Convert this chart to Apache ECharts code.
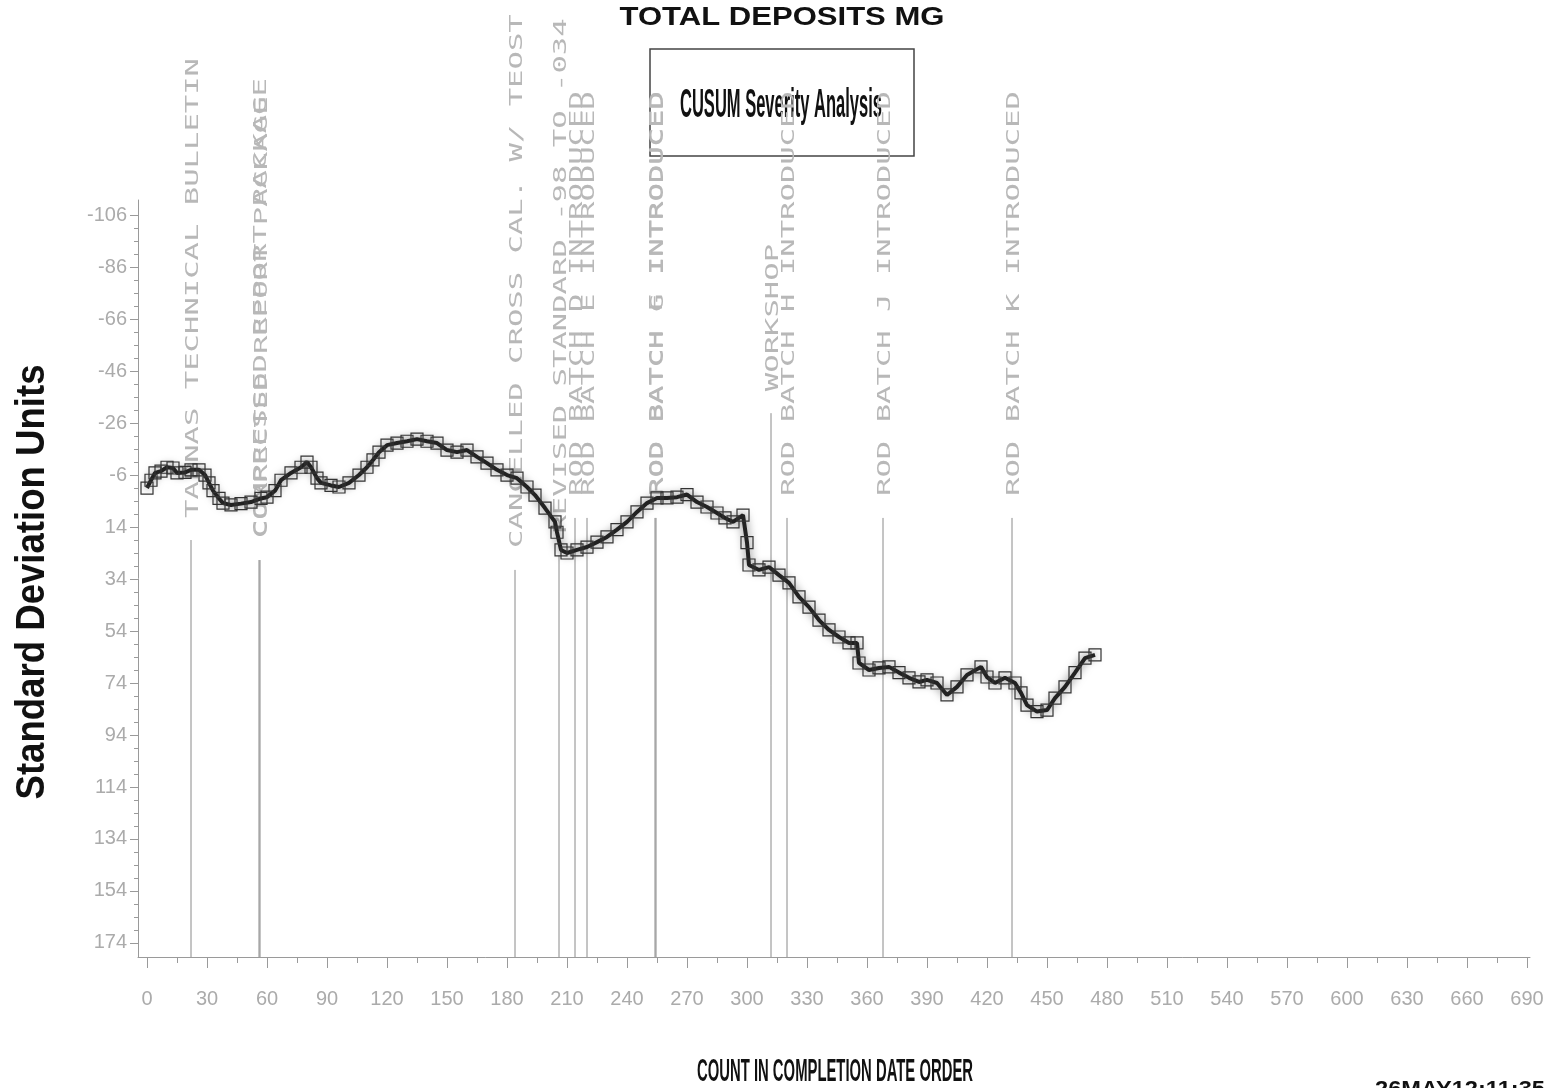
<!DOCTYPE html>
<html>
<head>
<meta charset="utf-8">
<title>CUSUM Severity Analysis</title>
<script src="https://cdn.jsdelivr.net/npm/echarts@6/dist/echarts.min.js"></script>
<style>
  html, body { margin: 0; padding: 0; background: #fff; }
  #chart { width: 1545px; height: 1088px; }
</style>
</head>
<body>
<div id="chart"></div>
<script>
// cusum values (count in completion date order -> SD units)
const counts = [0, 2, 4, 7, 10, 13, 15, 19, 22, 26, 29, 31, 33, 36, 38, 42, 47, 52, 57, 60,
  64, 67, 72, 77, 80, 82, 85, 87, 92, 96, 101, 106, 110, 113, 116, 120, 125, 130, 135, 140,
  145, 150, 155, 160, 165, 170, 175, 180, 185, 190, 194, 199, 204, 205, 207, 210, 215, 220, 225, 230,
  235, 240, 245, 250, 255, 260, 265, 270, 275, 280, 285, 289, 293, 298, 300, 301, 306, 311, 316, 321,
  326, 331, 336, 341, 346, 351, 355, 356, 361, 366, 371, 376, 381, 386, 390, 395, 400, 405, 410, 417,
  420, 424, 429, 434, 437, 440, 445, 450, 454, 459, 464, 469, 474];
const cusum = [-1, -4, -6.8, -7.5, -9, -8.7, -6.8, -7, -8, -8, -6, -3, 0, 3, 4.8, 5.5, 5, 4.4, 3, 2.5,
  0, -4, -6.8, -9, -11, -9, -4.8, -3, -2, -1.4, -3, -6, -9, -11.8, -14.8, -17.5, -18.3, -19, -19.8, -19,
  -18.3, -15.6, -14.8, -15.6, -13, -10.6, -8, -6, -4.8, -1.4, 1.7, 6.7, 12, 16, 22.8, 24, 22.8, 21.7, 19.8, 17.8,
  15, 12, 8.2, 4.8, 2.8, 2.8, 2.5, 1.5, 4.4, 6.3, 8.6, 10.5, 12, 9.4, 20, 28.6, 30.5, 29.4, 32.5, 35.5,
  40.9, 44.8, 49.8, 53.6, 56.3, 58.6, 58.6, 66.3, 69, 68.2, 67.8, 70, 72, 73.6, 72.8, 74, 78.6, 75.5, 70.9, 67.8,
  71.7, 74, 72, 74, 77.8, 82.5, 85, 84.4, 79.8, 75.5, 70, 64.4, 63.2];

// reference events
const eventCounts = [22, 56, 56.5, 184, 206, 214, 220, 254, 254.5, 312, 320, 368, 432.5];
const eventLabels = [
  'TAPNAS TECHNICAL BULLETIN',
  'COMPRESSED REPORT PACKAGE',
  'CORRECTED REPORT PACKAGE',
  'CANCELLED CROSS CAL. W/ TEOST',
  'REVISED STANDARD -98 TO -034',
  'ROD BATCH D INTRODUCED',
  'ROD BATCH E INTRODUCED',
  'ROD BATCH F INTRODUCED',
  'ROD BATCH G INTRODUCED',
  'WORKSHOP',
  'ROD BATCH H INTRODUCED',
  'ROD BATCH J INTRODUCED',
  'ROD BATCH K INTRODUCED'
];
// where each reference line starts (SD units)
const eventTops = [19, 26.7, 26.7, 30.5, 25, 10.5, 10.5, 10.5, 10.5, -29.8, 10.5, 10.5, 10.5];

const xTicks = [0, 30, 60, 90, 120, 150, 180, 210, 240, 270, 300, 330, 360, 390, 420, 450,
  480, 510, 540, 570, 600, 630, 660, 690];
const xMinorTicks = [15, 45, 75, 105, 135, 165, 195, 225, 255, 285, 315, 345, 375, 405, 435,
  465, 495, 525, 555, 585, 615, 645, 675];
const yTicks = [-106, -86, -66, -46, -26, -6, 14, 34, 54, 74, 94, 114, 134, 154, 174];
const yMinorTicks = [];
for (let i = 0; i < yTicks.length - 1; i++) {
  for (let k = 1; k < 4; k++) yMinorTicks.push(yTicks[i] + k * 5);
}

const X_MIN = -4.5, X_MAX = 691.5;
const Y_MIN = -111.8, Y_MAX = 179.4;

const measureCtx = document.createElement('canvas').getContext('2d');
function fitScale(text, font, target) {
  measureCtx.font = font;
  return target / measureCtx.measureText(text).width;
}

const narrow = '"Liberation Sans Narrow", "Liberation Sans", Arial, sans-serif';
const tickColor = '#9a9a9a';
const labelFont = '17px "DejaVu Sans Mono", monospace';
const labelScale = 18.4 / (0.602 * 17);

function textEl(text, font, x, y, target, opts) {
  opts = opts || {};
  return {
    type: 'text',
    x: x,
    y: y,
    rotation: opts.rotation || 0,
    scaleX: fitScale(text, font, target),
    style: {
      text: text,
      font: font,
      fill: opts.fill || '#111',
      align: opts.align || 'center',
      verticalAlign: opts.verticalAlign || 'middle',
      textAlign: opts.align || 'center',
      textVerticalAlign: opts.verticalAlign || 'middle'
    }
  };
}

const chart = echarts.init(document.getElementById('chart'));

chart.setOption({
  animation: false,
  backgroundColor: '#fff',
  grid: {
    left: 138,
    right: 15,
    top: 200,
    bottom: 131,
    containLabel: false,
    outerBoundsMode: 'none'
  },
  xAxis: [
    {
      type: 'value',
      position: 'bottom',
      min: X_MIN,
      max: X_MAX,
      axisLine: { show: true, onZero: false, lineStyle: { color: tickColor, width: 1 } },
      axisTick: { show: true, customValues: xTicks, length: 11, lineStyle: { color: tickColor } },
      axisLabel: {
        customValues: xTicks,
        margin: 32,
        color: '#ababab',
        fontFamily: narrow,
        fontSize: 20
      },
      splitLine: { show: false }
    },
    {
      type: 'value',
      position: 'bottom',
      min: X_MIN,
      max: X_MAX,
      axisLine: { show: false, onZero: false },
      axisTick: { show: true, customValues: xMinorTicks, length: 6, lineStyle: { color: tickColor } },
      axisLabel: { show: false },
      splitLine: { show: false }
    }
  ],
  yAxis: [
    {
      type: 'value',
      position: 'left',
      inverse: true,
      min: Y_MIN,
      max: Y_MAX,
      axisLine: { show: true, onZero: false, lineStyle: { color: tickColor, width: 1 } },
      axisTick: { show: true, customValues: yTicks, length: 8, lineStyle: { color: tickColor } },
      axisLabel: {
        customValues: yTicks,
        margin: 11,
        color: '#ababab',
        fontFamily: narrow,
        fontSize: 20
      },
      splitLine: { show: false }
    },
    {
      type: 'value',
      position: 'left',
      inverse: true,
      min: Y_MIN,
      max: Y_MAX,
      axisLine: { show: false, onZero: false },
      axisTick: { show: true, customValues: yMinorTicks, length: 4, lineStyle: { color: tickColor } },
      axisLabel: { show: false },
      splitLine: { show: false }
    }
  ],
  graphic: [
    textEl('TOTAL DEPOSITS MG', 'bold 26px "Liberation Sans", Arial, sans-serif', 782, 18, 325),
    {
      type: 'rect',
      shape: { x: 650, y: 49, width: 264, height: 107 },
      style: { fill: 'none', stroke: '#444', lineWidth: 1.5 }
    },
    textEl('CUSUM Severity Analysis', 'bold 40px ' + narrow, 781, 106, 202),
    textEl('Standard Deviation Units', 'bold 40px ' + narrow, 33, 582, 435, { rotation: Math.PI / 2 }),
    textEl('COUNT IN COMPLETION DATE ORDER', 'bold 31px ' + narrow, 835, 1072, 276),
    textEl('26MAY12:11:35', 'bold 22px "Liberation Sans", Arial, sans-serif', 1375, 1079, 170,
      { align: 'left', verticalAlign: 'top' })
  ],
  series: [
    {
      name: 'events',
      type: 'custom',
      coordinateSystem: 'cartesian2d',
      silent: true,
      z: 1,
      data: eventCounts.map((c, i) => [c, eventTops[i], i]),
      renderItem(params, api) {
        const i = api.value(2);
        const top = api.coord([api.value(0), api.value(1)]);
        const bottom = api.coord([api.value(0), Y_MAX]);
        return {
          type: 'group',
          children: [
            {
              type: 'line',
              shape: { x1: top[0], y1: top[1], x2: bottom[0], y2: bottom[1] },
              style: { stroke: '#8a8a8a', lineWidth: 1 }
            },
            {
              type: 'text',
              x: top[0] + 3,
              y: top[1] - 22,
              rotation: Math.PI / 2,
              scaleX: labelScale,
              style: {
                text: eventLabels[i],
                font: labelFont,
                fill: '#b8b8b8',
                align: 'left',
                verticalAlign: 'middle',
                textAlign: 'left',
                textVerticalAlign: 'middle'
              }
            }
          ]
        };
      }
    },
    {
      name: 'CUSUM',
      type: 'line',
      z: 3,
      data: counts.map((c, i) => [c, cusum[i]]),
      symbol: 'rect',
      symbolSize: 12,
      showAllSymbol: true,
      lineStyle: {
        color: '#222',
        width: 4,
        shadowColor: 'rgba(0,0,0,0.6)',
        shadowBlur: 10
      },
      itemStyle: { color: 'rgba(0,0,0,0)', borderColor: '#333', borderWidth: 1.2 }
    }
  ]
});
</script>
</body>
</html>
